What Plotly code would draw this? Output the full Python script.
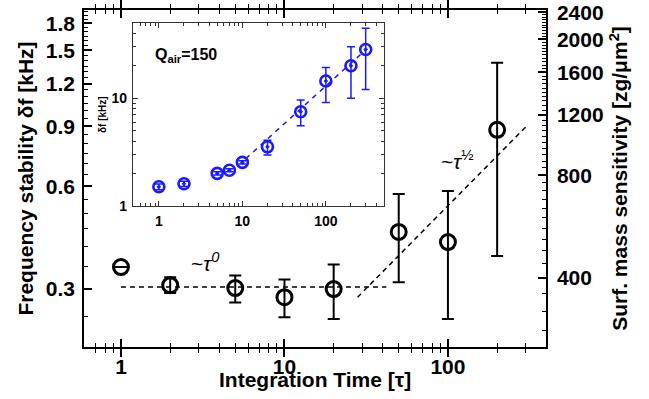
import math
import plotly.graph_objects as go

# ---------------- data ----------------
tau = [1, 2, 5, 10, 20, 50, 100, 200]
df_khz = [0.348, 0.308, 0.302, 0.284, 0.300, 0.441, 0.412, 0.878]
df_hi = [0.348, 0.325, 0.329, 0.320, 0.354, 0.570, 0.581, 1.38]
df_lo = [0.348, 0.292, 0.274, 0.248, 0.245, 0.314, 0.245, 0.375]

flat_x = [1, 42]
flat_y = [0.304, 0.304]
slope_x = [28, 304]
slope_y = [0.284, 0.902]

tau_in = [1, 2, 5, 7, 10, 20, 50, 100, 200, 300]
df_in = [1.51, 1.61, 2.01, 2.15, 2.54, 3.54, 7.47, 14.4, 19.9, 28.2]
df_in_hi = [1.60, 1.70, 2.08, 2.22, 2.63, 4.08, 9.58, 19.2, 29.9, 44.2]
df_in_lo = [1.42, 1.52, 1.94, 2.08, 2.45, 2.97, 5.54, 9.12, 9.94, 12.0]
fit_in_x = [11, 300]
fit_in_y = [2.75, 28.0]

left_ticks = [0.3, 0.6, 0.9, 1.2, 1.5, 1.8]
right_ticks = [400, 800, 1200, 1600, 2000, 2400]
x_ticks = [1, 10, 100]
inset_yticks = [1, 10]
mass_per_khz = 1237.0  # conversion between the two y scales (kHz -> zg/um^2)

# ---------------- style ----------------
FONT = "Liberation Sans, Arial, sans-serif"
BLUE = "#1a1aff"
left_range = [0.203, 1.97]
x_range = [0.594, 398]
inset_x_range = [0.49, 495]
inset_y_range = [1, 49.4]


def lg(v):
    return math.log10(v)


def minor_log(lo, hi):
    vals = []
    d = 10 ** math.floor(math.log10(lo))
    while d <= hi:
        for k in range(2, 10):
            v = k * d
            if lo <= v <= hi:
                vals.append(v)
        d *= 10
    return vals


left_minor = [round(0.05 * k, 3) for k in range(4, 40) if round(0.05 * k, 3) not in left_ticks]
right_minor = [40 * k for k in range(6, 61) if 40 * k not in right_ticks]

fig = go.Figure()
ghost = dict(mode="markers", marker=dict(opacity=0, size=1), showlegend=False, hoverinfo="skip")

# main data
fig.add_trace(go.Scatter(x=flat_x, y=flat_y, mode="lines",
                         line=dict(color="black", width=1.5, dash="5px,4px"),
                         xaxis="x", yaxis="y", showlegend=False, hoverinfo="skip"))
fig.add_trace(go.Scatter(x=slope_x, y=slope_y, mode="lines",
                         line=dict(color="black", width=1.5, dash="5px,4px"),
                         xaxis="x", yaxis="y", showlegend=False, hoverinfo="skip"))
fig.add_trace(go.Scatter(
    x=tau, y=df_khz, mode="markers",
    marker=dict(symbol="circle-open", size=15, color="black", line=dict(width=3, color="black")),
    error_y=dict(type="data", symmetric=False,
                 array=[h - v for h, v in zip(df_hi, df_khz)],
                 arrayminus=[v - l for v, l in zip(df_khz, df_lo)],
                 color="black", thickness=2, width=6),
    xaxis="x", yaxis="y", showlegend=False))
# same data on the mass-sensitivity scale (invisible, makes the right axis draw)
fig.add_trace(go.Scatter(x=tau, y=[v * mass_per_khz for v in df_khz], xaxis="x", yaxis="y2", **ghost))
# minor-tick helper axes
fig.add_trace(go.Scatter(x=tau, y=df_khz, xaxis="x3", yaxis="y4", **ghost))
fig.add_trace(go.Scatter(x=tau, y=[v * mass_per_khz for v in df_khz], xaxis="x3", yaxis="y5", **ghost))

# inset
fig.add_trace(go.Scatter(x=fit_in_x, y=fit_in_y, mode="lines",
                         line=dict(color=BLUE, width=1.5, dash="5px,5px"),
                         xaxis="x2", yaxis="y3", showlegend=False, hoverinfo="skip"))
fig.add_trace(go.Scatter(
    x=tau_in, y=df_in, mode="markers",
    marker=dict(symbol="circle-open-dot", size=11, color=BLUE, line=dict(width=2.6, color=BLUE)),
    error_y=dict(type="data", symmetric=False,
                 array=[h - v for h, v in zip(df_in_hi, df_in)],
                 arrayminus=[v - l for v, l in zip(df_in, df_in_lo)],
                 color=BLUE, thickness=1.5, width=4),
    xaxis="x2", yaxis="y3", showlegend=False))
fig.add_trace(go.Scatter(x=tau_in, y=df_in, xaxis="x4", yaxis="y6", **ghost))

tickfont = dict(family=FONT, size=21, color="black", weight="bold")
titlefont = dict(family=FONT, size=21, color="black", weight="bold")
inset_tickfont = dict(family=FONT, size=14, color="black", weight="bold")

common = dict(showgrid=False, zeroline=False, automargin=False, tickmode="array")
major = dict(ticks="inside", ticklen=8, tickwidth=1.5, tickcolor="black",
             showline=True, linecolor="black", linewidth=1.5)
minor_style = dict(ticks="inside", ticklen=4, tickwidth=1.2, tickcolor="black",
                   showline=True, linecolor="black", linewidth=1.5, showticklabels=False)
inset_major = dict(ticks="inside", ticklen=5, tickwidth=1, tickcolor="#333",
                   showline=True, linecolor="#333", linewidth=1.2, mirror="allticks")
inset_minor = dict(ticks="inside", ticklen=3, tickwidth=1, tickcolor="#333",
                   showline=True, linecolor="#333", linewidth=1.2, mirror="allticks",
                   showticklabels=False)

fig.update_layout(
    width=649, height=399,
    margin=dict(l=84, r=103, t=10, b=52),
    paper_bgcolor="white", plot_bgcolor="white",
    xaxis=dict(type="log", range=[lg(x_range[0]), lg(x_range[1])], domain=[0, 1], anchor="y",
               tickvals=x_ticks, ticktext=[str(v) for v in x_ticks], mirror="allticks",
               tickfont=tickfont, ticklabelstandoff=0, **major, **common),
    xaxis3=dict(type="log", range=[lg(x_range[0]), lg(x_range[1])], overlaying="x", anchor="y",
                side="bottom", tickvals=minor_log(x_range[0], x_range[1]), mirror="allticks",
                **minor_style, **common),
    yaxis=dict(type="log", range=[lg(left_range[0]), lg(left_range[1])], domain=[0, 1], anchor="x",
               tickvals=left_ticks, ticktext=[str(v) for v in left_ticks],
               tickfont=tickfont, ticklabelstandoff=3, **major, **common,
               title=dict(text="Frequency stability δf [kHz]", font=titlefont, standoff=6)),
    yaxis4=dict(type="log", range=[lg(left_range[0]), lg(left_range[1])], overlaying="y", anchor="x",
                side="left", tickvals=left_minor, **minor_style, **common),
    yaxis2=dict(type="log", overlaying="y", side="right", anchor="x",
                range=[lg(left_range[0] * mass_per_khz), lg(left_range[1] * mass_per_khz)],
                tickvals=right_ticks, ticktext=[str(v) for v in right_ticks],
                tickfont=tickfont, ticklabelstandoff=5, **major, **common,
                title=dict(text="Surf. mass sensitivity [zg/μm<sup>2</sup>]", font=titlefont, standoff=10)),
    yaxis5=dict(type="log", overlaying="y", side="right", anchor="x3",
                range=[lg(left_range[0] * mass_per_khz), lg(left_range[1] * mass_per_khz)],
                tickvals=right_minor, **minor_style, **common),
    xaxis2=dict(type="log", range=[lg(inset_x_range[0]), lg(inset_x_range[1])],
                domain=[0.106, 0.649], anchor="y3",
                tickvals=x_ticks, ticktext=[str(v) for v in x_ticks],
                tickfont=inset_tickfont, ticklabelstandoff=2, **inset_major, **common),
    xaxis4=dict(type="log", range=[lg(inset_x_range[0]), lg(inset_x_range[1])],
                overlaying="x2", anchor="y3", side="bottom",
                tickvals=minor_log(inset_x_range[0], inset_x_range[1]), **inset_minor, **common),
    yaxis3=dict(type="log", range=[lg(inset_y_range[0]), lg(inset_y_range[1])],
                domain=[0.418, 0.961], anchor="x2",
                tickvals=inset_yticks, ticktext=[str(v) for v in inset_yticks],
                tickfont=inset_tickfont, ticklabelstandoff=2, **inset_major, **common,
                title=dict(text="δf [kHz]", font=dict(family=FONT, size=10, color="black", weight="bold"),
                           standoff=2)),
    yaxis6=dict(type="log", range=[lg(inset_y_range[0]), lg(inset_y_range[1])],
                overlaying="y3", anchor="x2", side="left",
                tickvals=minor_log(inset_y_range[0], inset_y_range[1]), **inset_minor, **common),
    annotations=[
        dict(text="Integration Time [τ]", xref="paper", yref="paper", x=0.5, y=-0.097,
             xanchor="center", yanchor="middle", showarrow=False, font=titlefont),
        dict(text="~<i>τ</i><sup><i>0</i></sup>", xref="paper", yref="paper", x=0.262, y=0.252,
             xanchor="center", yanchor="middle", showarrow=False,
             font=dict(family=FONT, size=21, color="black")),
        dict(text="~<i>τ</i><sup>½</sup>", xref="paper", yref="paper", x=0.807, y=0.555,
             xanchor="center", yanchor="middle", showarrow=False,
             font=dict(family=FONT, size=21, color="black")),
        dict(text="<b>Q<sub>air</sub>=150</b>", xref="paper", yref="paper", x=0.149, y=0.866,
             xanchor="left", yanchor="middle", showarrow=False,
             font=dict(family=FONT, size=16, color="black")),
    ],
)

fig.write_html("out.html")
